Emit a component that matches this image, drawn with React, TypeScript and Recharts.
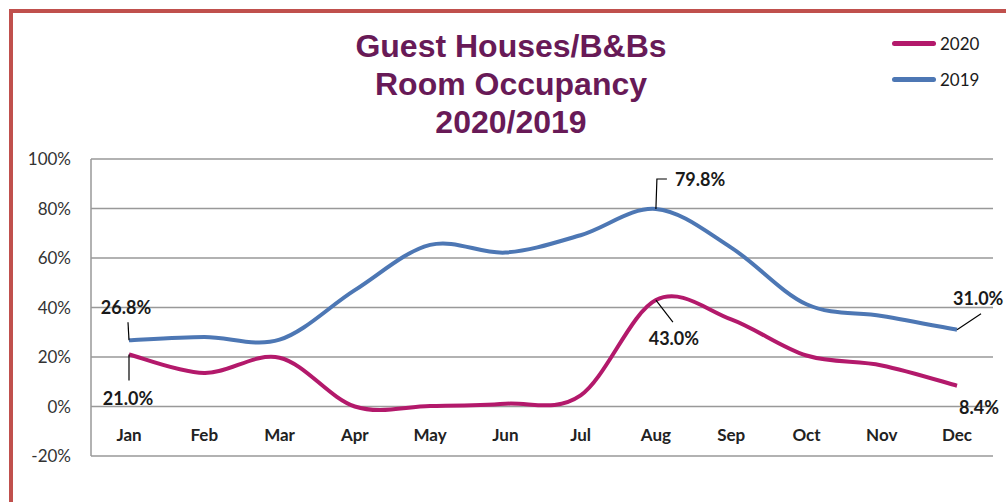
import React from "react";
import { LineChart, Line, XAxis, YAxis, CartesianGrid, LabelList } from "recharts";

const months = ["Jan", "Feb", "Mar", "Apr", "May", "Jun", "Jul", "Aug", "Sep", "Oct", "Nov", "Dec"];
const occ2020 = [21.0, 13.5, 19.7, 0.0, 0.2, 1.1, 4.5, 43.0, 35.2, 20.6, 16.6, 8.4];
const occ2019 = [26.8, 28.1, 27.0, 47.0, 65.3, 62.2, 69.2, 79.8, 64.2, 41.3, 36.6, 31.0];
const yTicks = [-20, 0, 20, 40, 60, 80, 100];
const titleLines = ["Guest Houses/B&Bs", "Room Occupancy", "2020/2019"];

const data = months.map((m, i) => ({ month: m, y2020: occ2020[i], y2019: occ2019[i] }));

const C2020 = "#B3196B";
const C2019 = "#4D77B4";
const GRID = "#999999";
const FONT = "Lato, 'Open Sans', sans-serif";

// Excel-like smoothing (uniform Catmull-Rom as cubic Bezier)
const excelSmooth: any = (context: any) => {
  let pts: number[][] = [];
  return {
    areaStart() {},
    areaEnd() {},
    lineStart() {
      pts = [];
    },
    point(x: number, y: number) {
      pts.push([+x, +y]);
    },
    lineEnd() {
      const n = pts.length;
      if (!n) return;
      context.moveTo(pts[0][0], pts[0][1]);
      for (let i = 0; i < n - 1; i++) {
        const p0 = pts[Math.max(i - 1, 0)];
        const p1 = pts[i];
        const p2 = pts[i + 1];
        const p3 = pts[Math.min(i + 2, n - 1)];
        const c1x = p1[0] + (p2[0] - p0[0]) / 6;
        const c1y = p1[1] + (p2[1] - p0[1]) / 6;
        const c2x = p2[0] - (p3[0] - p1[0]) / 6;
        const c2y = p2[1] - (p3[1] - p1[1]) / 6;
        context.bezierCurveTo(c1x, c1y, c2x, c2y, p2[0], p2[1]);
      }
    },
  };
};

type LabelCfg = { tx: number; ty: number; anchor: string; leader?: number[][] };

const labels2019: Record<number, LabelCfg> = {
  0: { tx: -3, ty: -33, anchor: "middle", leader: [[0, 0], [-1, -18]] },
  7: { tx: 19, ty: -30, anchor: "start", leader: [[0, 0], [1, -30], [11, -30]] },
  11: { tx: -4, ty: -32, anchor: "start", leader: [[0, 0], [24, -16]] },
};
const labels2020: Record<number, LabelCfg> = {
  0: { tx: -1, ty: 43, anchor: "middle", leader: [[0, 0], [0, 26]] },
  7: { tx: 18, ty: 38, anchor: "middle", leader: [[0, 0], [17, 22]] },
  11: { tx: 2, ty: 21, anchor: "start" },
};

const makeLabel = (cfg: Record<number, LabelCfg>) => (props: any) => {
  const { x, y, index, value } = props;
  const c = cfg[index];
  if (!c) return <g />;
  return (
    <g>
      {c.leader && (
        <polyline
          points={c.leader.map((p) => `${x + p[0]},${y + p[1]}`).join(" ")}
          fill="none"
          stroke="#000"
          strokeWidth={1.2}
        />
      )}
      <text
        x={x + c.tx}
        y={y + c.ty}
        textAnchor={c.anchor as any}
        dominantBaseline="central"
        fontFamily={FONT}
        fontWeight={700}
        fontSize={18}
        fill="#1a1a1a"
      >
        {Number(value).toFixed(1)}%
      </text>
    </g>
  );
};

const XTick = (props: any) => {
  const { x, y, payload } = props;
  return (
    <text
      x={x}
      y={y - 22}
      textAnchor="middle"
      dominantBaseline="central"
      fontFamily={FONT}
      fontWeight={700}
      fontSize={17}
      fill="#222"
    >
      {payload.value}
    </text>
  );
};

const legendItems = [
  { name: "2020", color: C2020 },
  { name: "2019", color: C2019 },
];

export default function App() {
  return (
    <div
      style={{
        position: "absolute",
        left: 0,
        top: 0,
        width: 1006,
        height: 502,
        background: "#fff",
        overflow: "hidden",
      }}
    >
      <div
        style={{
          position: "absolute",
          left: 9,
          top: 9,
          width: 1100,
          height: 600,
          borderLeft: "4px solid #C0504D",
          borderTop: "4px solid #C0504D",
        }}
      />
      <div
        style={{
          position: "absolute",
          left: 261,
          top: 27,
          width: 500,
          textAlign: "center",
          fontFamily: "'Liberation Sans', Arial, sans-serif",
          fontWeight: 700,
          fontSize: 32,
          lineHeight: "38px",
          color: "#681A57",
        }}
      >
        {titleLines.map((t) => (
          <div key={t}>{t}</div>
        ))}
      </div>
      <div
        style={{
          position: "absolute",
          left: 892,
          top: 25,
          fontFamily: FONT,
          fontSize: 17,
          color: "#1a1a1a",
        }}
      >
        {legendItems.map((it) => (
          <div key={it.name} style={{ display: "flex", alignItems: "center", height: 36 }}>
            <span
              style={{
                display: "inline-block",
                width: 44,
                height: 5,
                borderRadius: 3,
                background: it.color,
                marginRight: 4,
              }}
            />
            <span>{it.name}</span>
          </div>
        ))}
      </div>
      <div style={{ position: "absolute", left: 0, top: 0 }}>
        <LineChart
          width={1006}
          height={502}
          data={data}
          margin={{ top: 159, right: 13, bottom: 0, left: 0 }}
          style={{ fontFamily: FONT }}
        >
          <CartesianGrid vertical={false} stroke={GRID} strokeWidth={1.5} />
          <XAxis
            dataKey="month"
            height={46}
            axisLine={false}
            tickLine={false}
            tickSize={0}
            tickMargin={0}
            padding={{ left: 38, right: 36 }}
            tick={<XTick />}
            interval={0}
          />
          <YAxis
            width={91}
            domain={[-20, 100]}
            ticks={yTicks}
            tickFormatter={(v: number) => `${v}%`}
            axisLine={{ stroke: GRID, strokeWidth: 1.5 }}
            tickLine={false}
            tickSize={0}
            tickMargin={20}
            tick={{ fill: "#333", fontSize: 17, fontFamily: FONT }}
            interval={0}
          />
          <Line
            dataKey="y2019"
            name="2019"
            type={excelSmooth}
            stroke={C2019}
            strokeWidth={4}
            dot={false}
            activeDot={false}
            isAnimationActive={false}
          >
            <LabelList dataKey="y2019" content={makeLabel(labels2019)} />
          </Line>
          <Line
            dataKey="y2020"
            name="2020"
            type={excelSmooth}
            stroke={C2020}
            strokeWidth={4}
            dot={false}
            activeDot={false}
            isAnimationActive={false}
          >
            <LabelList dataKey="y2020" content={makeLabel(labels2020)} />
          </Line>
        </LineChart>
      </div>
    </div>
  );
}
